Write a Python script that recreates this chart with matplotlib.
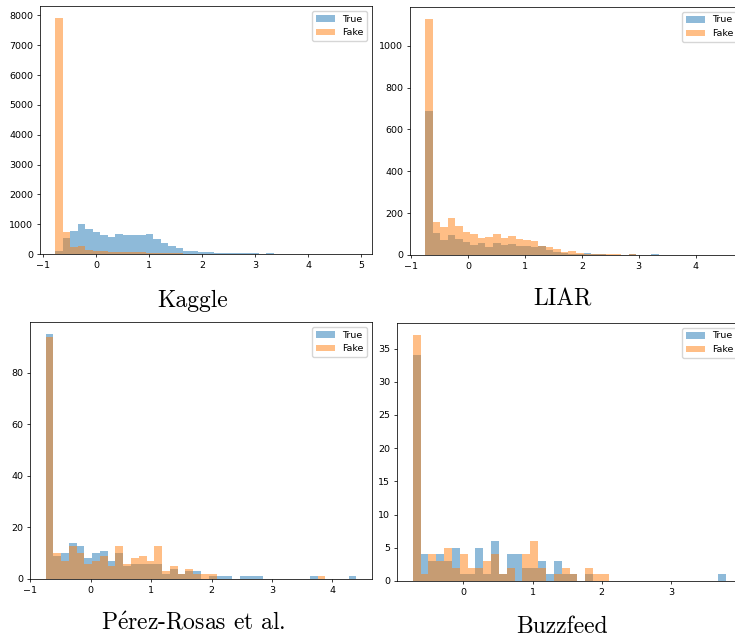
import matplotlib
matplotlib.use("Agg")
import matplotlib.pyplot as plt
import numpy as np

# per-panel histogram ranges (40 bins each) and counts
kaggle_range = (-0.77, 4.92)
kaggle_true = [110, 550, 770, 1005, 850, 725, 636, 580, 670, 640,
               640, 640, 660, 515, 370, 270, 190, 105, 100, 80,
               55, 35, 30, 30, 25, 25, 20, 5, 20, 5,
               2, 1, 1, 0, 0, 0, 0, 0, 0, 1]
kaggle_fake = [7920, 750, 240, 260, 120, 110, 105, 65, 60, 60,
               55, 55, 50, 40, 30, 25, 18, 12, 9, 6,
               5, 3, 3, 2, 2, 1, 1, 0, 0, 0,
               0, 0, 0, 0, 0, 0, 0, 0, 0, 1]

liar_range = (-0.755, 4.55)
liar_true = [689, 103, 71, 95, 77, 64, 49, 57, 39, 58,
             49, 53, 45, 45, 38, 42, 22, 15, 10, 5,
             4, 8, 4, 3, 2, 2, 1, 4, 1, 0,
             4, 0, 0, 0, 0, 0, 0, 0, 0, 1]
liar_fake = [1129, 158, 135, 176, 141, 111, 99, 80, 87, 99,
             80, 90, 76, 74, 68, 42, 36, 30, 13, 19,
             8, 5, 6, 4, 3, 3, 2, 3, 1, 0,
             0, 0, 0, 0, 0, 0, 0, 0, 0, 0]

perez_range = (-0.75, 4.40)
perez_true = [95, 9, 10, 14, 13, 8, 10, 11, 7, 10,
              5, 6, 6, 6, 6, 2, 4, 2, 3, 3,
              0, 1, 1, 1, 0, 1, 1, 1, 0, 0,
              0, 0, 0, 0, 1, 0, 0, 0, 0, 1]
perez_fake = [94, 10, 7, 13, 10, 6, 7, 9, 5, 13,
              6, 8, 9, 7, 13, 3, 5, 2, 4, 2,
              2, 2, 0, 0, 0, 0, 0, 0, 0, 0,
              0, 0, 0, 0, 0, 1, 0, 0, 0, 0]

buzz_range = (-0.732, 3.80)
buzz_true = [34, 4, 3, 4, 3, 5, 1, 1, 5, 1,
             6, 1, 4, 4, 2, 2, 3, 1, 3, 1,
             1, 0, 1, 0, 0, 0, 0, 0, 0, 0,
             0, 0, 0, 0, 0, 0, 0, 0, 0, 1]
buzz_fake = [37, 1, 4, 3, 5, 2, 4, 2, 2, 3,
             4, 1, 2, 0, 4, 6, 2, 0, 1, 2,
             1, 0, 2, 1, 1, 0, 0, 0, 0, 0,
             0, 0, 0, 0, 0, 0, 0, 0, 0, 0]
buzz_xticks = [0, 1, 2, 3]

captions = ["Kaggle", "LIAR", "P$\\acute{\\rm e}$rez-Rosas et al.", "Buzzfeed"]

S = 0.68  # the subfigures are shrunk in the page
plt.rcParams["font.size"] = 10 * S
plt.rcParams["axes.linewidth"] = 0.8 * S
plt.rcParams["xtick.major.size"] = 3.5 * S
plt.rcParams["ytick.major.size"] = 3.5 * S
plt.rcParams["xtick.major.width"] = 0.8 * S
plt.rcParams["ytick.major.width"] = 0.8 * S
plt.rcParams["xtick.major.pad"] = 3.5 * S
plt.rcParams["ytick.major.pad"] = 3.5 * S
plt.rcParams["mathtext.fontset"] = "cm"

W, H = 735, 640
fig = plt.figure(figsize=(W / 100, H / 100), dpi=100)


def px_axes(x0, y0, x1, y1):
    return fig.add_axes([x0 / W, 1 - y1 / H, (x1 - x0) / W, (y1 - y0) / H])


def draw(ax, rng, true_counts, fake_counts):
    edges = np.linspace(rng[0], rng[1], len(true_counts) + 1)
    left = edges[:-1]
    ax.hist(left, bins=edges, weights=true_counts, alpha=0.5, label="True")
    ax.hist(left, bins=edges, weights=fake_counts, alpha=0.5, label="Fake")
    ax.legend(loc="upper right")


ax1 = px_axes(40, 6, 372, 254)
draw(ax1, kaggle_range, kaggle_true, kaggle_fake)
ax2 = px_axes(410, 7, 742, 255)
draw(ax2, liar_range, liar_true, liar_fake)
ax3 = px_axes(30, 322, 372, 579)
draw(ax3, perez_range, perez_true, perez_fake)
ax4 = px_axes(397, 323, 742, 581)
draw(ax4, buzz_range, buzz_true, buzz_fake)
ax4.set_xticks(buzz_xticks)

cap_pos = [(193, 307), (563, 306), (193, 630), (562, 633)]
for (cx, cy), txt in zip(cap_pos, captions):
    fig.text(cx / W, 1 - cy / H, txt, ha="center", va="baseline",
             fontsize=17, family="cmr10")

fig.savefig("out.png", dpi=100)
